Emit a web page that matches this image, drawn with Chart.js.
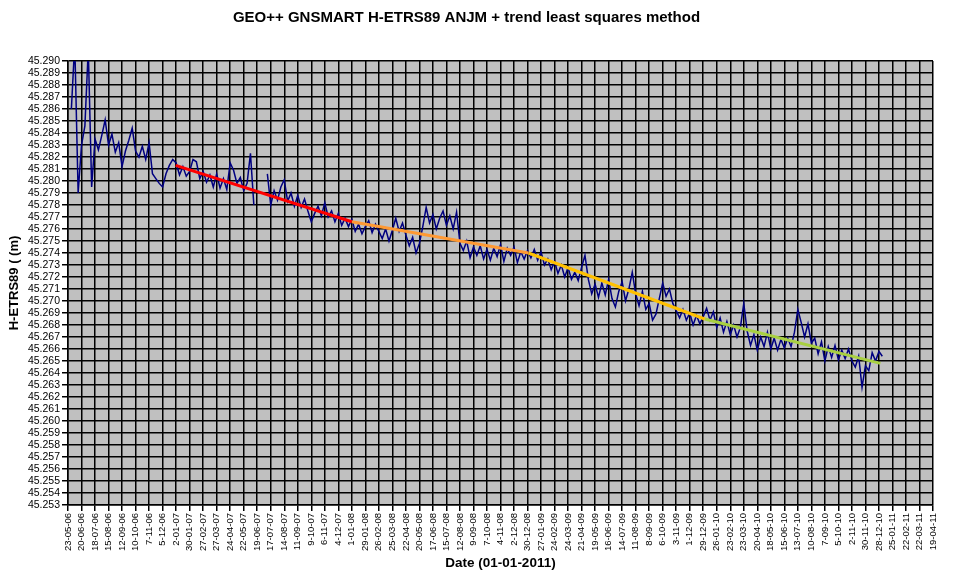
<!DOCTYPE html>
<html>
<head>
<meta charset="utf-8">
<script src="https://cdn.jsdelivr.net/npm/chart.js@4"></script>
<style>
  html, body { margin: 0; padding: 0; background: #fff; }
</style>
</head>
<body>
<canvas id="myChart" width="963" height="582"></canvas>
<script>
// days are counted from 23-05-2006, one reading per week
const firstDay = 7;
const stepDays = 7;
const heights = [
    45.2860, 45.2915, 45.2790, 45.2830, 45.2846, 45.2910, 45.2795, 45.2835, 45.2826, 45.2838,
    45.2851, 45.2830, 45.2839, 45.2824, 45.2832, 45.2812, 45.2825, 45.2834, 45.2844, 45.2825,
    45.2820, 45.2829, 45.2818, 45.2832, 45.2806, 45.2802, 45.2798, 45.2795, 45.2806, 45.2813,
    45.2818, 45.2815, 45.2805, 45.2812, 45.2804, 45.2808, 45.2818, 45.2816, 45.2802, 45.2808,
    45.2799, 45.2805, 45.2795, 45.2806, 45.2794, 45.2802, 45.2793, 45.2815, 45.2809, 45.2798,
    45.2803, 45.2792, 45.2798, 45.2823, 45.2780, null, null, null, 45.2806, 45.2780,
    45.2792, 45.2784, 45.2795, 45.2801, 45.2783, 45.2790, 45.2779, 45.2788, 45.2778, 45.2785,
    45.2775, 45.2766, 45.2773, 45.2779, 45.2771, 45.2782, 45.2770, 45.2775, 45.2766, 45.2773,
    45.2763, 45.2769, 45.2762, 45.2768, 45.2758, 45.2764, 45.2756, 45.2762, 45.2767, 45.2757,
    45.2764, 45.2758, 45.2752, 45.2760, 45.2750, 45.2759, 45.2769, 45.2758, 45.2765, 45.2755,
    45.2746, 45.2753, 45.2740, 45.2748, 45.2762, 45.2778, 45.2765, 45.2772, 45.2760, 45.2769,
    45.2775, 45.2763, 45.2771, 45.2760, 45.2774, 45.2748, 45.2742, 45.2750, 45.2736, 45.2745,
    45.2738, 45.2746, 45.2735, 45.2743, 45.2734, 45.2744, 45.2737, 45.2747, 45.2733, 45.2744,
    45.2738, 45.2745, 45.2732, 45.2741, 45.2735, 45.2742, 45.2736, 45.2743, 45.2734, 45.2741,
    45.2730, 45.2735, 45.2726, 45.2733, 45.2723, 45.2730, 45.2720, 45.2728, 45.2718, 45.2724,
    45.2717, 45.2728, 45.2738, 45.2718, 45.2706, 45.2714, 45.2703, 45.2715, 45.2705, 45.2718,
    45.2702, 45.2695, 45.2708, 45.2716, 45.2700, 45.2710, 45.2724, 45.2706, 45.2696, 45.2708,
    45.2693, 45.2698, 45.2684, 45.2689, 45.2702, 45.2715, 45.2704, 45.2710, 45.2698, 45.2692,
    45.2686, 45.2693, 45.2684, 45.2690, 45.2680, 45.2688, 45.2681, 45.2687, 45.2694, 45.2684,
    45.2691, 45.2678, 45.2686, 45.2674, 45.2683, 45.2672, 45.2680, 45.2670, 45.2678, 45.2698,
    45.2675, 45.2663, 45.2672, 45.2659, 45.2670, 45.2662, 45.2674, 45.2660, 45.2669, 45.2659,
    45.2668, 45.2661, 45.2669, 45.2662, 45.2674, 45.2693, 45.2682, 45.2670, 45.2681, 45.2665,
    45.2669, 45.2656, 45.2666, 45.2650, 45.2662, 45.2653, 45.2663, 45.2651, 45.2659, 45.2652,
    45.2660, 45.2650, 45.2645, 45.2654, 45.2628, 45.2646, 45.2642, 45.2657, 45.2650, 45.2658,
    45.2654
];

// yearly least squares trends: start/end day and start/end height
const trendDays = [[223, 588], [588, 954], [954, 1319], [1319, 1683]];
const trendHeights = [[45.2813, 45.2766], [45.2766, 45.2740], [45.2740, 45.2685], [45.2685, 45.2648]];

const xMin = 0, xMax = 1792, xStep = 28;
const yMin = 45.253, yMax = 45.290, yStep = 0.001;

function dayLabel(d) {
    let t = new Date(2006, 4, 23 + d);
    return t.getDate() + '-' + String(t.getMonth() + 1).padStart(2, '0') + '-' + String(t.getFullYear() % 100).padStart(2, '0');
}

const plotBg = {
    id: 'plotBg',
    beforeDraw(chart) {
        const { ctx, chartArea: a } = chart;
        ctx.save();
        ctx.fillStyle = '#c0c0c0';
        ctx.fillRect(a.left, a.top, a.right - a.left, a.bottom - a.top);
        ctx.restore();
    }
};

Chart.defaults.font.family = '"Liberation Sans", Arial, sans-serif';
Chart.defaults.color = '#000';

let points = heights.map((h, k) => ({ x: firstDay + k * stepDays, y: h }));
let trendColors = ['#ff0000', '#ff9933', '#ffc000', '#a8d040'];

let datasets = trendDays.map((d, j) => ({
    data: [{ x: d[0], y: trendHeights[j][0] }, { x: d[1], y: trendHeights[j][1] }],
    borderColor: trendColors[j],
    borderWidth: 3,
    pointRadius: 0,
    order: 0
}));
datasets.push({
    data: points,
    borderColor: '#000080',
    borderWidth: 1.5,
    pointRadius: 0,
    spanGaps: false,
    order: 1
});

let ctx = document.getElementById('myChart');
new Chart(ctx, {
    type: 'line',
    data: { datasets: datasets },
    plugins: [plotBg],
    options: {
        responsive: false,
        animation: false,
        layout: { padding: { left: 0, right: 30, top: 0, bottom: 0 } },
        plugins: {
            legend: { display: false },
            tooltip: { enabled: false },
            title: {
                display: true,
                text: 'GEO++ GNSMART H-ETRS89 ANJM + trend least squares method',
                font: { size: 15, weight: 'bold' },
                padding: { top: 9, bottom: 34 }
            }
        },
        scales: {
            x: {
                type: 'linear',
                min: xMin,
                max: xMax,
                ticks: {
                    stepSize: xStep,
                    autoSkip: false,
                    maxRotation: 90,
                    minRotation: 90,
                    padding: 2,
                    font: { size: 9.5 },
                    callback: v => dayLabel(v)
                },
                grid: { color: '#000', lineWidth: 1.5, tickLength: 6 },
                border: { color: '#000', width: 1.5 },
                title: {
                    display: true,
                    text: 'Date (01-01-2011)',
                    font: { size: 13.5, weight: 'bold' },
                    padding: { top: 0, bottom: 11 }
                },
                afterFit(s) { s.height = 77; }
            },
            y: {
                min: yMin,
                max: yMax,
                ticks: {
                    stepSize: yStep,
                    autoSkip: false,
                    padding: 2,
                    font: { size: 10.5 },
                    callback: v => v.toFixed(3)
                },
                grid: { color: '#000', lineWidth: 1.5, tickLength: 6 },
                border: { color: '#000', width: 1.5 },
                title: {
                    display: true,
                    text: 'H-ETRS89 ( (m)',
                    font: { size: 13, weight: 'bold' },
                    padding: { top: 7, bottom: 0 }
                },
                afterFit(s) { s.width = 68; }
            }
        }
    }
});
</script>
</body>
</html>
